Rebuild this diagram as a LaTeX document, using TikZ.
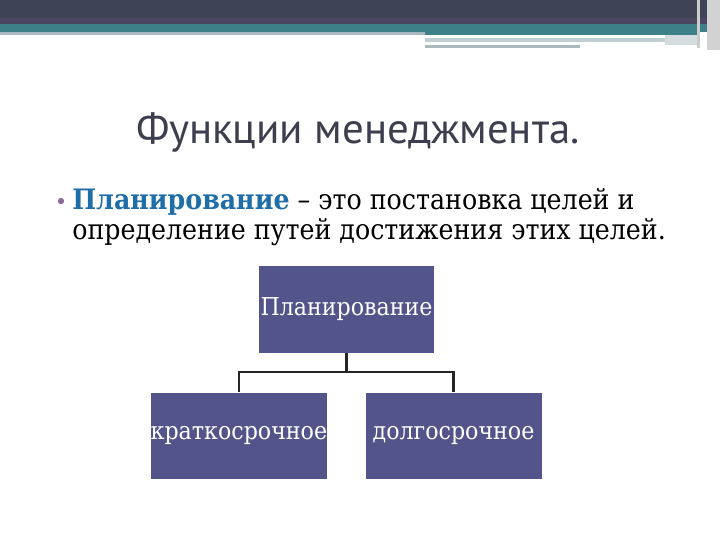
\documentclass[tikz,border=0pt]{standalone}
\usepackage{fontspec}
\setmainfont{DejaVu Serif Condensed}
\newfontfamily\titlefont{PT Sans}
\usetikzlibrary{positioning}
\definecolor{topdark}{HTML}{3F4356}
\definecolor{topplum}{HTML}{4A4560}
\definecolor{topteal}{HTML}{3E8088}
\definecolor{stripgray}{HTML}{A9B9BE}
\definecolor{boxblue}{HTML}{52548A}
\definecolor{titlegray}{HTML}{3D3F4E}
\definecolor{keyblue}{HTML}{1F6EA8}
\definecolor{dotpurple}{HTML}{8A6C9C}
\tikzstyle{box} = [rectangle, fill=boxblue, text=white, inner sep=0pt, font=\fontsize{17.5}{20}\selectfont]
\tikzstyle{link} = [draw=black!85, line width=1.5pt]

\begin{document}
\begin{tikzpicture}[x=0.025cm, y=-0.025cm]

    \fill [white] (0, 0) rectangle (720, 540);

    % top bars
    \fill [topdark] (0, 0) rectangle (720, 18);
    \fill [topplum] (0, 18) rectangle (720, 24);
    \fill [topteal] (0, 24) rectangle (720, 32);
    \fill [stripgray] (0, 32) rectangle (425, 35);
    \fill [topteal] (425, 32) rectangle (697, 35);
    \fill [stripgray!70] (425, 38) rectangle (665, 42);
    \fill [stripgray] (425, 45) rectangle (580, 48);
    \fill [stripgray!50] (665, 35) rectangle (697, 45);
    \fill [gray!40] (697, 0) rectangle (700, 48);
    \fill [gray!35] (707, 0) rectangle (720, 50);

    \node (title) [text=titlegray, font=\titlefont\fontsize{30.5}{36}\selectfont] at (358, 132) {Функции менеджмента.};

    \node (dot) [circle, fill=dotpurple, inner sep=0pt, minimum size=4.5pt] at (61, 201) {};
    \node (def) [anchor=west, align=left, inner sep=0pt, font=\fontsize{20}{21.3}\selectfont] at (72, 217)
        {\textcolor{keyblue}{\textbf{Планирование}} – это постановка целей и\\определение путей достижения этих целей.};

    \node (plan) [box, minimum width=4.375cm, minimum height=2.175cm] at (346.5, 309.5) {Планирование};
    \node (short) [box, minimum width=4.4cm, minimum height=2.15cm, below=0.975cm of plan, xshift=-2.69cm] {краткосрочное};
    \node (long) [box, minimum width=4.4cm, minimum height=2.15cm, below=0.975cm of plan, xshift=2.675cm] {долгосрочное};

    \draw [link] (plan.south) -- ++(0, 19) coordinate (fork) -| (short.north);
    \draw [link] (fork) -| (long.north);

\end{tikzpicture}
\end{document}
